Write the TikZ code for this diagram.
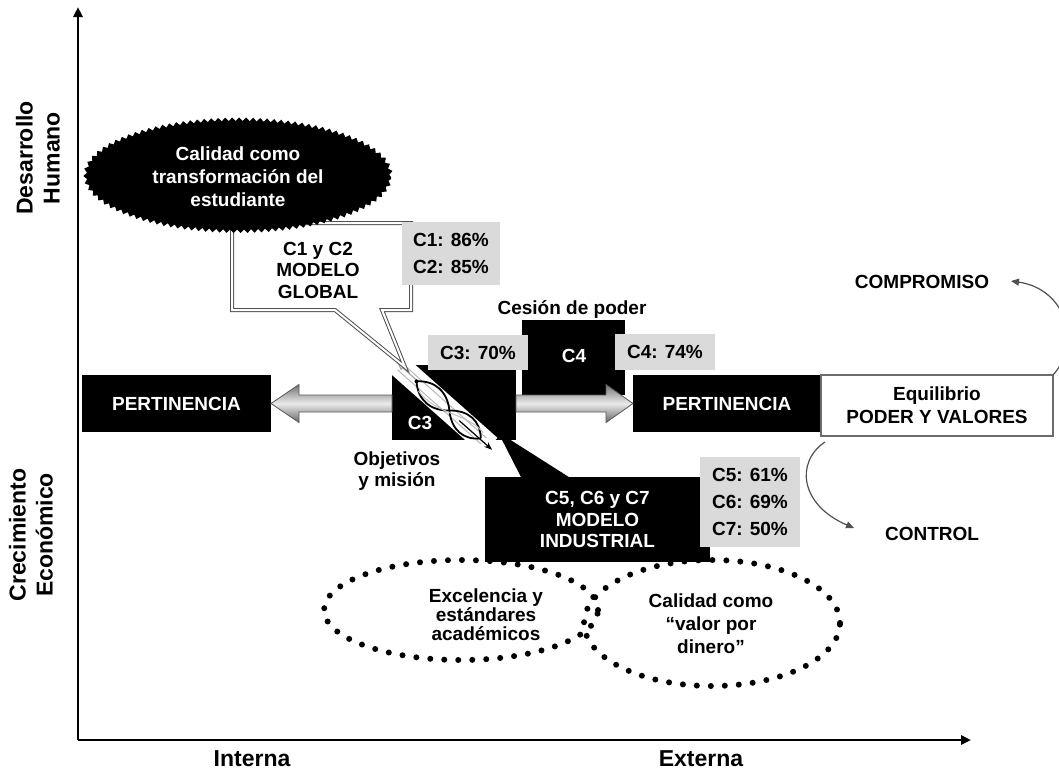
\documentclass[tikz,border=0pt]{standalone}
\usepackage{fontspec}
\setmainfont{Liberation Sans}
\usetikzlibrary{shapes.geometric,arrows.meta,decorations.pathmorphing,calc}
\definecolor{labelgray}{RGB}{218,218,218}
\definecolor{linegray}{RGB}{80,80,80}
\begin{document}
\begin{tikzpicture}[x=0.5pt,y=-0.5pt,
  every node/.style={inner sep=0pt,outer sep=0pt},
  txt/.style={font=\bfseries\fontsize{9.5}{10.75}\selectfont,align=center},
  axislabel/.style={font=\bfseries\fontsize{11.5}{13.5}\selectfont,align=center},
  darkbox/.style={fill=black,text=white,txt},
  pctbox/.style={fill=labelgray,align=center,font=\bfseries\fontsize{9.5}{13.5}\selectfont},
  axisline/.style={line width=1.4pt,-{Triangle[length=5pt,width=4.5pt]}},
  fatarrow/.style={draw=black!65,line width=0.4pt,top color=black!55,bottom color=black!60,middle color=black!8},
  dotring/.style={draw,line width=3pt,line cap=round,dash pattern=on 0pt off 7pt},
  thinarrow/.style={draw=linegray,line width=0.6pt,-{Triangle[length=4pt,width=3.5pt]}},
  dblline/.style={draw=linegray,double=white,double distance=1pt,line width=0.5pt}
]
\useasboundingbox (0,0) rectangle (1059,773);

% axes
\coordinate (origin) at (78,740);
\coordinate (ytop) at (78,7);
\coordinate (xend) at (971,740);
\draw[axisline] (origin) -- (ytop);
\draw[axisline] (origin) -- (xend);
\node[axislabel,rotate=90] (ylabhi) at (38,158) {Desarrollo\\Humano};
\node[axislabel,rotate=90] (ylablo) at (31,535) {Crecimiento\\Económico};
\node[axislabel] (xlabin) at (252,759) {Interna};
\node[axislabel] (xlabex) at (701,759) {Externa};

% C3 block and the tail of the lower callout
\node[fill=black,minimum width=62pt,minimum height=37.5pt] (c3box) at (454,402.5) {};
\fill[black] (498,432) -- (522,479) -- (572,479) -- cycle;

% diagonal band with the rope knot
\begin{scope}[shift={(c3box.center)},shift={(-39,-22.5)},rotate=-41.6]
  \fill[white] (-32,-11.5) rectangle (100,11.5);
  \draw[gray!55,line width=0.5pt] (-20,-4) -- (92,-4) (-20,4) -- (92,4);
  \draw[gray!70,line width=0.6pt,-{Triangle[open,length=3.5pt,width=3pt]}] (2,-1) -- (-24,-1);
  \draw[black,line width=0.9pt] (2,0) .. controls (15,-13) and (32,-13) .. (46,0) .. controls (60,13) and (76,13) .. (88,0);
  \draw[black,line width=0.9pt] (2,0) .. controls (15,13) and (32,13) .. (46,0) .. controls (60,-13) and (76,-13) .. (88,0);
  \draw[gray!50,line width=0.5pt] (10,6) .. controls (40,12) and (60,-10) .. (86,-6);
  \fill[black] (2,0) circle (2);
  \draw[black,line width=0.6pt,-{Stealth[length=4pt,width=3pt]}] (60,1) -- (104,1);
\end{scope}

% upper callout
\draw[dblline,fill=white] (232,223) -- (411,223) -- (411,310) -- (382,310) -- (405,367) -- (335,310) -- (232,310) -- cycle;
\node[txt] (modglobal) at (318,270) {C1 y C2\\MODELO\\GLOBAL};

% top ellipse
\node[ellipse,fill=black,minimum width=153pt,minimum height=56pt,decorate,
      decoration={snake,segment length=3.5pt,amplitude=0.9pt}] (topell) at (238,177) {};
\node[txt,text=white,font=\bfseries\fontsize{9.5}{11.5}\selectfont] (topelltxt) at (topell.center) {Calidad como\\transformación del\\estudiante};

% percentage labels at the top
\node[pctbox,minimum width=49pt,minimum height=31.5pt] (pct12) at (451,253.5) {C1: 86\%\\C2: 85\%};

% power transfer block
\node[txt] (cesion) at (572,309) {Cesión de poder};
\node[darkbox,minimum width=51.5pt,minimum height=37.5pt] (c4box) at (573.5,357.5) {};
\node[pctbox,minimum width=50pt,minimum height=17.5pt] (pct3) at (478,352.5) {C3: 70\%};
\node[pctbox,minimum width=50pt,minimum height=18pt] (pct4) at (665,352) {C4: 74\%};
\node[txt,text=white] (c4lbl) at (574,356) {C4};
\node[txt,text=white] (c3lbl) at (420,423) {C3};

% relevance boxes
\node[darkbox,minimum width=94.5pt,minimum height=28.5pt] (pertL) at (176.5,403.5) {PERTINENCIA};
\node[darkbox,minimum width=94pt,minimum height=28.5pt] (pertR) at (727,403.5) {PERTINENCIA};
\node[draw=gray!85!black,line width=0.8pt,fill=white,txt,font=\bfseries\fontsize{9.5}{11.5}\selectfont,
      minimum width=116pt,minimum height=30.5pt] (equil) at (937,405.5) {Equilibrio\\PODER Y VALORES};

% shaded double arrow
\path[fatarrow] (pertL.east) -- ++(28,-19) -- ++(0,10.5) -- ($(c3box.west)+(0,-7.5)$) -- ++(0,17)
  -- ($(pertL.east)+(28,8.5)$) -- ($(pertL.east)+(28,19)$) -- cycle;
\path[fatarrow] (pertR.west) -- ++(-27,-19) -- ++(0,10.5) -- ($(c3box.east)+(0,-7.5)$) -- ++(0,17)
  -- ($(pertR.west)+(-27,8.5)$) -- ($(pertR.west)+(-27,19)$) -- cycle;

\node[txt] (objetivos) at (397,471) {Objetivos\\y misión};

% lower callout
\node[darkbox,minimum width=112.5pt,minimum height=42.5pt] (modind) at (597.5,519.5) {C5, C6 y C7\\MODELO\\INDUSTRIAL};
\node[pctbox,minimum width=50pt,minimum height=45pt] (pct567) at (750,502) {C5: 61\%\\C6: 69\%\\C7: 50\%};

% dotted ellipses
\node[ellipse,dotring,minimum width=137pt,minimum height=50pt] (ellL) at (461,610) {};
\node[ellipse,dotring,minimum width=128pt,minimum height=63pt] (ellR) at (712,623) {};
\node[txt,font=\bfseries\fontsize{9.5}{9.5}\selectfont] (ellLtxt) at (486,615) {Excelencia y\\estándares\\académicos};
\node[txt,font=\bfseries\fontsize{9.5}{11.5}\selectfont] (ellRtxt) at (711,624) {Calidad como\\“valor por\\dinero”};

% commitment and control
\node[txt] (comp) at (922,282) {COMPROMISO};
\node[txt] (control) at (932,534) {CONTROL};
\draw[thinarrow] (equil.north east) .. controls (1082,343) and (1066,289) .. ($(comp.east)+(22,-1)$);
\draw[thinarrow] ($(equil.south west)+(4,6)$) .. controls (795,462) and (800,505) .. ($(control.west)+(-31,-6)$);
\end{tikzpicture}
\end{document}
